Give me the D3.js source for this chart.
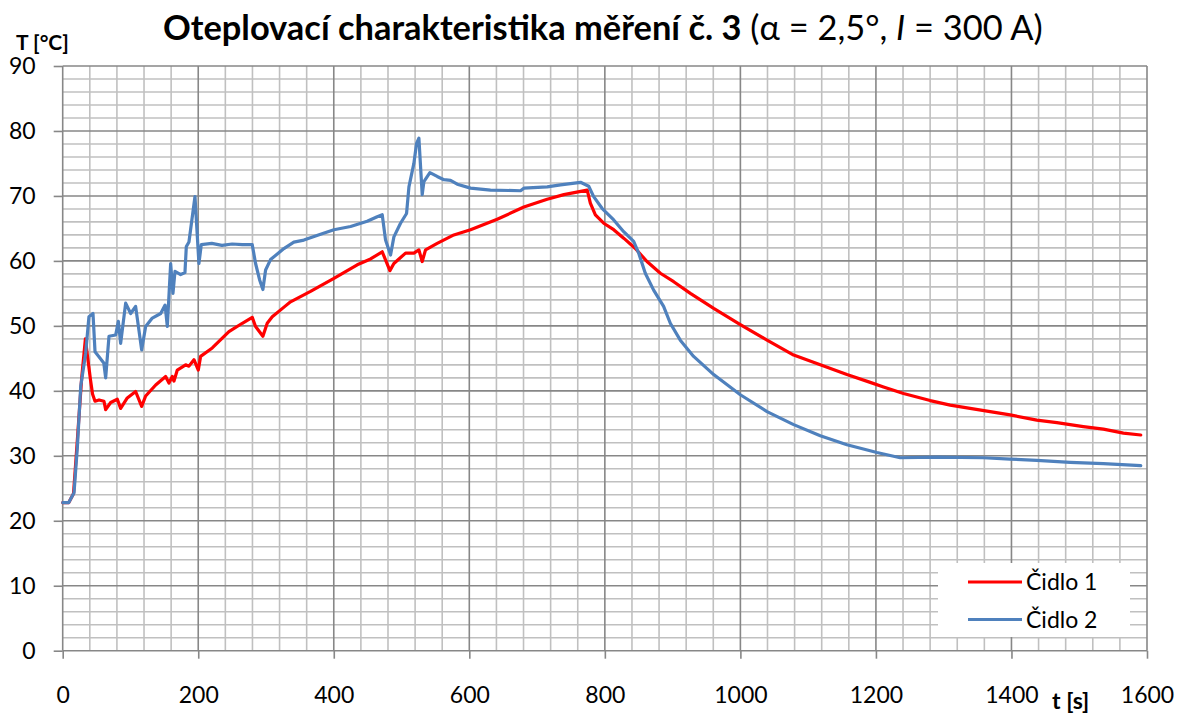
<!doctype html>
<html>
<head>
<meta charset="utf-8">
<style>
  body { margin: 0; background: #fff; }
  svg text { font-family: Lato, "Open Sans", sans-serif; fill: #000; }
</style>
</head>
<body>
<div class="chart"></div>
<script src="https://d3js.org/d3.v7.min.js"></script>
<script>
// Čidlo 1 (red)
let time1 = [0, 9, 16, 22, 28, 33.5, 37, 41, 44, 47.7, 53.6, 60.9, 63.4, 70.8, 80.6, 85.5, 95.3, 107.6, 116.5, 122.4,
  137.2, 151.9, 156.8, 161.7, 164.2, 169.1, 181.4, 186.3, 193.7, 200.1, 203.5, 220.7, 245.3, 265, 279.7, 284.6,
  295.4, 301.8, 309.2, 327.9, 336.2, 365.7, 400.2, 434.6, 454.3, 471.5, 482.8, 488.7, 505.9, 518.2, 525.6, 530.5,
  535.4, 552.6, 577.2, 601.8, 641.2, 680.5, 714.9, 739.5, 774, 778.6, 786, 798.3, 813.1, 827.8, 845, 862.2, 881.9,
  901.6, 926.2, 960.6, 999.9, 1039.3, 1078.6, 1117.9, 1157.2, 1191.6, 1211.2, 1240.7, 1280, 1309.6, 1339, 1398,
  1437.4, 1467, 1506, 1535.7, 1565.2, 1590.8];
let temp1 = [22.8, 22.8, 24.2, 33, 42, 48, 45, 41.7, 39.5, 38.4, 38.6, 38.4, 37.1, 38.2, 38.7, 37.3, 38.9, 39.9, 37.6, 39.2,
  40.9, 42.2, 41.2, 42.2, 41.5, 43.2, 44.0, 43.8, 44.8, 43.2, 45.3, 46.6, 49.1, 50.4, 51.3, 49.9,
  48.4, 50.4, 51.4, 53.0, 53.7, 55.3, 57.3, 59.4, 60.3, 61.4, 58.5, 59.6, 61.2, 61.2, 61.7, 59.9,
  61.7, 62.7, 64.0, 64.8, 66.4, 68.3, 69.5, 70.2, 70.9, 68.9, 67.1, 65.8, 64.8, 63.5, 61.9, 59.9, 58.1,
  56.8, 55.0, 52.7, 50.2, 47.8, 45.5, 44.0, 42.5, 41.3, 40.6, 39.6, 38.5, 37.8, 37.3, 36.3,
  35.5, 35.1, 34.5, 34.1, 33.5, 33.2];

// Čidlo 2 (blue)
let time2 = [0, 9, 16.7, 21.7, 26.6, 33.9, 38.7, 44.7, 47.7, 53.2, 60.6, 63.4, 68.3, 78.2, 82.1, 85.5, 92.9, 100.3, 107.6,
  116.5, 122.4, 132.2, 144.6, 151.1, 154.4, 159.3, 162.7, 165.7, 174, 180.4, 182.4, 186.3, 195.2, 201, 204.5,
  220, 235, 250, 265, 279.7, 284.6, 290.5, 295.4, 299.4, 306.7, 326.4, 341.1, 355.9, 380.5, 400.2, 424.8, 449.3,
  464.1, 471.5, 476.4, 483.8, 488.7, 498.5, 507.4, 510.9, 518.2, 522.2, 525.6, 530.5, 533, 541.8, 552.6, 562.5,
  572.3, 582.2, 601.8, 631.3, 675.6, 680.5, 714.9, 734.6, 764.1, 776.2, 783.5, 795.8, 813.1, 827.8, 842.5,
  849.9, 859.7, 872, 886.7, 896.6, 911.3, 931, 960.6, 999.9, 1039.3, 1078.6, 1117.9, 1157.2, 1201.5, 1235.8,
  1290, 1358.8, 1398, 1437.4, 1486.6, 1535.7, 1590.8];
let temp2 = [22.8, 22.8, 24.3, 31.4, 40.7, 45.8, 51.4, 51.9, 46.0, 45.3, 44.3, 42.0, 48.4, 48.6, 50.7, 47.3, 53.5, 51.9, 53.0,
  46.3, 49.9, 51.2, 51.9, 53.2, 49.9, 59.6, 55.0, 58.4, 57.9, 58.2, 62.2, 62.9, 69.9, 59.6, 62.5,
  62.7, 62.4, 62.6, 62.5, 62.5, 59.6, 57.1, 55.6, 58.6, 60.2, 61.9, 62.9, 63.2, 64.1, 64.8, 65.3, 66.1,
  66.8, 67.1, 63.2, 60.9, 63.7, 65.8, 67.3, 71.4, 75.0, 78.1, 78.9, 70.2, 72.2, 73.6, 73.0, 72.5,
  72.4, 71.8, 71.2, 70.9, 70.8, 71.2, 71.4, 71.7, 72.1, 71.5, 69.9, 68.1, 66.3, 64.5, 63.0,
  61.2, 58.1, 55.5, 53.0, 50.4, 47.8, 45.3, 42.5, 39.4, 36.8, 34.8, 33.1, 31.7, 30.5, 29.7,
  29.8, 29.7, 29.5, 29.3, 29.0, 28.8, 28.5];

let seriesNames = ["Čidlo 1", "Čidlo 2"];
let seriesColors = ["#ff0000", "#4f81bd"];
let xTicks = [0, 200, 400, 600, 800, 1000, 1200, 1400, 1600];
let yTicks = [0, 10, 20, 30, 40, 50, 60, 70, 80, 90];

let width = 1183, height = 716;
let plotLeft = 62.7, plotRight = 1147, plotTop = 66, plotBottom = 650.7;

let svg = d3.select(".chart").append("svg")
  .attr("width", width).attr("height", height)
  .style("display", "block");

svg.append("rect").attr("width", width).attr("height", height).attr("fill", "#fff");

let scaleX = d3.scaleLinear().domain([0, 1600]).range([plotLeft, plotRight]);
let scaleY = d3.scaleLinear().domain([0, 90]).range([plotBottom, plotTop]);

// mřížka - vedlejší
let grid = svg.append("g");
grid.selectAll(".vminor").data(d3.range(40, 1600, 40).filter(v => v % 200 != 0))
  .enter().append("line")
  .attr("x1", d => scaleX(d)).attr("x2", d => scaleX(d))
  .attr("y1", plotTop).attr("y2", plotBottom)
  .attr("stroke", "#c0c0c0").attr("stroke-width", 1.6);
grid.selectAll(".hminor").data(d3.range(2, 90, 2).filter(v => v % 10 != 0))
  .enter().append("line")
  .attr("x1", plotLeft).attr("x2", plotRight)
  .attr("y1", d => scaleY(d)).attr("y2", d => scaleY(d))
  .attr("stroke", "#c0c0c0").attr("stroke-width", 1.6);

// mřížka - hlavní
grid.selectAll(".vmajor").data(xTicks.slice(1))
  .enter().append("line")
  .attr("x1", d => scaleX(d)).attr("x2", d => scaleX(d))
  .attr("y1", plotTop).attr("y2", plotBottom)
  .attr("stroke", "#878787").attr("stroke-width", 1.6);
grid.selectAll(".hmajor").data(yTicks.slice(1))
  .enter().append("line")
  .attr("x1", plotLeft).attr("x2", plotRight)
  .attr("y1", d => scaleY(d)).attr("y2", d => scaleY(d))
  .attr("stroke", "#878787").attr("stroke-width", 1.6);

// osy
let xAxis = d3.axisBottom(scaleX).tickValues(xTicks).tickSize(8).tickPadding(28).tickFormat(d3.format("d"));
let yAxis = d3.axisLeft(scaleY).tickValues(yTicks).tickSize(9).tickPadding(18).tickFormat(d3.format("d"));

let gx = svg.append("g").attr("transform", "translate(0," + plotBottom + ")").call(xAxis);
let gy = svg.append("g").attr("transform", "translate(" + plotLeft + ",0)").call(yAxis);
[gx, gy].forEach(g => {
  g.select(".domain").attr("stroke", "#878787").attr("stroke-width", 1.6);
  g.selectAll(".tick line").attr("stroke", "#878787").attr("stroke-width", 1.6);
  g.selectAll(".tick text").style("font-family", "Lato, sans-serif").style("font-size", "23px").attr("fill", "#000");
});
gx.select(".domain").attr("d", "M" + plotLeft + ",0H" + plotRight);
gy.select(".domain").attr("d", "M0," + plotBottom + "V" + plotTop);

// čáry
let lineF = d3.line().x(d => scaleX(d[0])).y(d => scaleY(d[1]));
let series = [d3.zip(time1, temp1), d3.zip(time2, temp2)];

svg.append("g").selectAll("path").data(series)
  .enter().append("path")
  .attr("d", d => lineF(d))
  .attr("fill", "none")
  .attr("stroke", (d, i) => seriesColors[i])
  .attr("stroke-width", 3.2)
  .attr("stroke-linejoin", "round")
  .attr("stroke-linecap", "round");

// legenda
let legend = svg.append("g");
legend.append("rect").attr("x", 938).attr("y", 563).attr("width", 192).attr("height", 74).attr("fill", "#fff");
seriesNames.forEach((name, i) => {
  let y = 582 + i * 37.5;
  legend.append("line").attr("x1", 968).attr("x2", 1022).attr("y1", y).attr("y2", y)
    .attr("stroke", seriesColors[i]).attr("stroke-width", 3.2);
  legend.append("text").attr("x", 1026).attr("y", y + 8)
    .style("font-size", "23px").text(name);
});

// popisky os
svg.append("text").attr("x", 16).attr("y", 50)
  .style("font-size", "21px").style("font-weight", "bold").text("T [°C]");
svg.append("text").attr("x", 1052).attr("y", 709)
  .style("font-size", "23px").style("font-weight", "bold").text("t [s]");

// nadpis
let title = svg.append("text").attr("x", 163).attr("y", 40).style("font-size", "29px");
title.append("tspan").style("font-weight", "bold").text("Oteplovací charakteristika měření č. 3");
title.append("tspan").text(" (α = 2,5°, ");
title.append("tspan").style("font-style", "italic").text("I");
title.append("tspan").text(" = 300 A)");
let tw = title.node().getComputedTextLength();
let fs = 29 * 880 / tw;
title.style("font-size", fs + "px");
</script>
</body>
</html>
